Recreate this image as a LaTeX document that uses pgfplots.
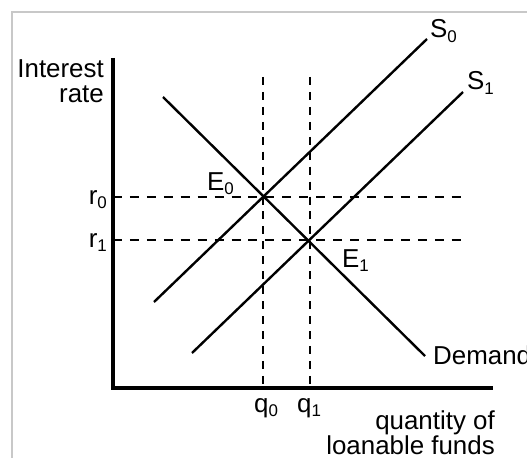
\documentclass[border=0pt]{standalone}
\usepackage{pgfplots}
\pgfplotsset{compat=1.18}
\usepackage{fontspec}
\setmainfont{Liberation Sans}
\newcommand{\sub}[1]{\raisebox{-0.3ex}{\fontsize{17}{17}\selectfont #1}}
\begin{document}
\fontsize{26}{29}\selectfont
\begin{tikzpicture}
\begin{axis}[
  at={(0,0)}, anchor=south west,
  width=527bp, height=458bp, scale only axis,
  xmin=0, xmax=527, ymin=0, ymax=458, y dir=reverse,
  hide axis, clip=false,
]
% frame
\addplot[color={rgb,255:red,200;green,200;blue,200}, line width=1.5pt] coordinates {(12,470) (12,12) (540,12)};
% dashed guides
\addplot[black, line width=2.2pt, dash pattern=on 9pt off 8pt] coordinates {(113,197) (463,197)};
\addplot[black, line width=2.2pt, dash pattern=on 9pt off 8pt] coordinates {(113,240) (463,240)};
\addplot[black, line width=2.2pt, dash pattern=on 8pt off 7pt] coordinates {(263,77) (263,388)};
\addplot[black, line width=2.2pt, dash pattern=on 8pt off 7pt] coordinates {(310,77) (310,388)};
% demand and supply
\addplot[black, line width=2.4pt] coordinates {(163,97) (425,356)};
\addplot[black, line width=2.4pt] coordinates {(154,302) (427,39)};
\addplot[black, line width=2.4pt] coordinates {(192,353) (463,92)};
% axes
\addplot[black, line width=3.8pt] coordinates {(113,58) (113,388) (493,388)};
% labels
\node[anchor=base east, inner sep=0pt] at (axis cs:104,78) {Interest};
\node[anchor=base east, inner sep=0pt] at (axis cs:104,103) {rate};
\node[anchor=base east, inner sep=0pt] at (axis cs:107,204) {r\sub{0}};
\node[anchor=base east, inner sep=0pt] at (axis cs:107,247) {r\sub{1}};
\node[anchor=base west, inner sep=0pt] at (axis cs:254,412) {q\sub{0}};
\node[anchor=base west, inner sep=0pt] at (axis cs:297,412) {q\sub{1}};
\node[anchor=base east, inner sep=0pt] at (axis cs:495,429) {quantity of};
\node[anchor=base east, inner sep=0pt] at (axis cs:495,454) {loanable funds};
\node[anchor=base west, inner sep=0pt] at (axis cs:430,38) {S\sub{0}};
\node[anchor=base west, inner sep=0pt] at (axis cs:467,90) {S\sub{1}};
\node[anchor=base west, inner sep=0pt] at (axis cs:207,190) {E\sub{0}};
\node[anchor=base west, inner sep=0pt] at (axis cs:342,267) {E\sub{1}};
\node[anchor=base west, inner sep=0pt] at (axis cs:433,364) {Demand};
\end{axis}
\pgfresetboundingbox
\path[use as bounding box] (0,0) rectangle (527bp,458bp);
\end{tikzpicture}
\end{document}
